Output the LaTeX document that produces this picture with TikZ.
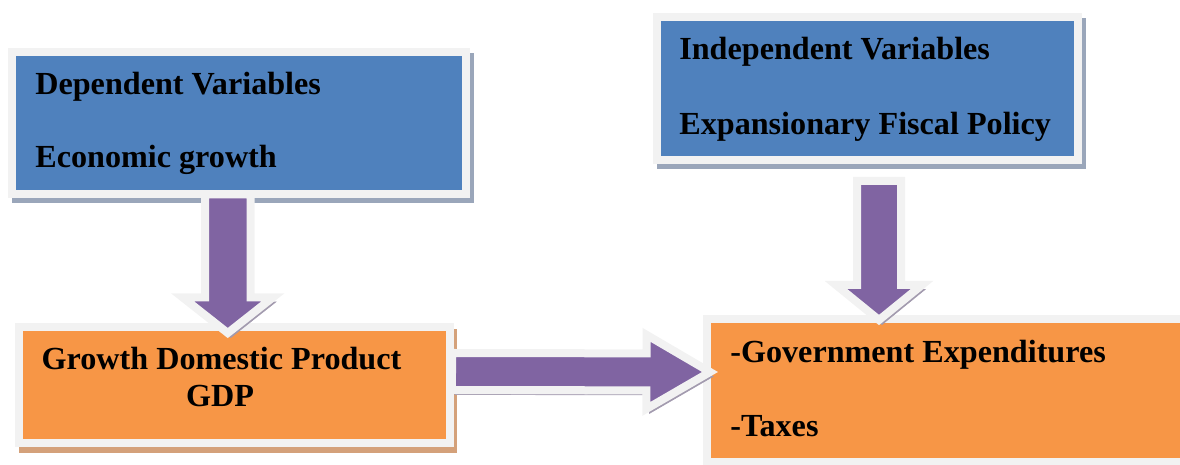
\documentclass[tikz,border=0pt]{standalone}
\usepackage{fontspec}
\setmainfont{Liberation Serif}
\usetikzlibrary{calc, positioning}

\definecolor{boxblue}{HTML}{4F81BD}
\definecolor{boxorange}{HTML}{F79646}
\definecolor{arrowpurple}{HTML}{8064A2}
\definecolor{framegray}{HTML}{F2F2F2}
\definecolor{blueshade}{HTML}{9AA6BA}
\definecolor{orangeshade}{HTML}{D4A17A}
\definecolor{purpleshade}{HTML}{A29AAE}

% block arrow: start, tip, shaft width, head width, head length
\newcommand{\fatarrow}[5]{%
  \coordinate (hb) at ($(#2)!#5!(#1)$);
  \path [fat arrow] ($(#1)!#3/2!90:(#2)$) -- ($(hb)!#3/2!-90:(#1)$)
    -- ($(hb)!#4/2!-90:(#1)$) -- (#2) -- ($(hb)!#4/2!90:(#1)$)
    -- ($(hb)!#3/2!90:(#1)$) -- ($(#1)!#3/2!-90:(#2)$) -- cycle;
}

\begin{document}
\begin{tikzpicture}[line join=miter,
  framed/.style={draw=framegray, line width=0.16cm, inner sep=0pt, outer sep=0pt},
  bluebox/.style={framed, fill=boxblue,
    preaction={fill=blueshade, draw=blueshade, transform canvas={shift={(0.07,-0.1)}}}},
  orangebox/.style={framed, fill=boxorange,
    preaction={fill=orangeshade, draw=orangeshade, transform canvas={shift={(0.07,-0.12)}}}},
  fat arrow/.style={fill=arrowpurple, draw=framegray, line width=0.16cm,
    preaction={fill=purpleshade, draw=purpleshade, transform canvas={shift={(0.06,-0.09)}}}},
  boxtext/.style={font=\fontsize{18.3}{22}\selectfont\bfseries, inner sep=0pt}]
  \useasboundingbox (0,0) rectangle (23.6,9.3);
  \clip (0,0) rectangle (23.6,9.3);

  \node (dep) at (4.78,6.835) [bluebox, minimum width=9.08cm, minimum height=2.85cm] {};
  \node (ind) at (17.35,7.525) [bluebox, minimum width=8.42cm, minimum height=2.87cm] {};
  \node (gdp) at (4.685,1.595) [orangebox, minimum width=8.61cm, minimum height=2.33cm] {};
  \node (pol) at (19.67,1.49) [orangebox, minimum width=11.06cm, minimum height=2.86cm] {};

  \coordinate (a1s) at ([xshift=-0.225cm]dep.south);
  \coordinate (a1e) at ([xshift=-0.13cm, yshift=-0.12cm]gdp.north);
  \coordinate (a2s) at ([xshift=0.23cm, yshift=-0.41cm]ind.south);
  \coordinate (a2e) at ([xshift=-2.09cm, yshift=-0.02cm]pol.north);
  \coordinate (a3s) at ([xshift=0.05cm, yshift=0.275cm]gdp.east);
  \coordinate (a3e) at ([xshift=0.06cm, yshift=0.37cm]pol.west);

  \fatarrow{a1s}{a1e}{0.91cm}{1.8cm}{0.71cm}
  \fatarrow{a2s}{a2e}{0.88cm}{1.72cm}{0.70cm}
  \fatarrow{a3s}{a3e}{0.74cm}{1.48cm}{1.27cm}

  \node (deptop) at (0.70,7.40) [boxtext, anchor=base west] {Dependent Variables};
  \node (depbot) at (0.70,5.94) [boxtext, anchor=base west] {Economic growth};
  \node (indtop) at (13.58,8.10) [boxtext, anchor=base west] {Independent Variables};
  \node (indbot) at (13.58,6.60) [boxtext, anchor=base west] {Expansionary Fiscal Policy};
  \node (gdptop) at (4.43,1.90) [boxtext, anchor=base] {Growth Domestic Product};
  \node (gdpbot) at (4.40,1.16) [boxtext, anchor=base] {GDP};
  \node (poltop) at (14.60,2.04) [boxtext, anchor=base west] {-Government Expenditures};
  \node (polbot) at (14.60,0.56) [boxtext, anchor=base west] {-Taxes};
\end{tikzpicture}
\end{document}
